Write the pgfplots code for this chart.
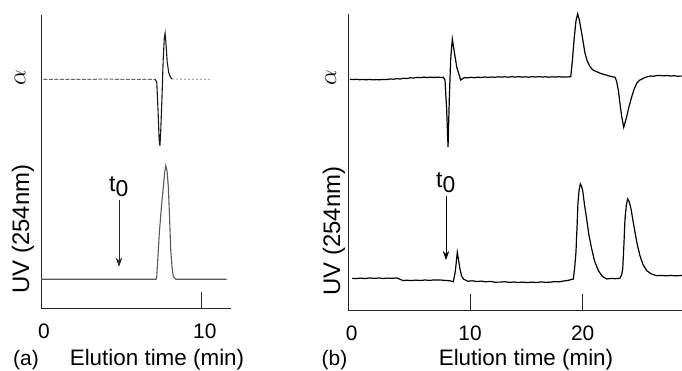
\documentclass[border=0pt]{standalone}
\usepackage{fontspec}
\setmainfont{Liberation Sans}
\usepackage{pgfplots}
\pgfplotsset{compat=1.18}
\usetikzlibrary{arrows.meta}

\begin{document}
\begin{tikzpicture}
\path[use as bounding box] (0,0) rectangle (682bp,371bp);
\pgfplotsset{
  chrom/.style={
    scale only axis,
    axis x line=bottom, axis y line=left,
    axis line style={-, line width=1bp, black!85},
    ytick=\empty,
    xtick align=inside,
    major tick length=16bp,
    tick style={line width=0.9bp, black!85},
    /pgf/number format/assume math mode=true,
    ticklabel style={font=\fontsize{21}{21}\selectfont},
    xticklabel style={anchor=base, yshift=-30bp},
    clip=false,
  }
}
% ---------------- Panel (a) ----------------
\begin{axis}[chrom,
  at={(41bp,62.7bp)}, anchor=south west,
  width=189.7bp, height=293.3bp,
  xmin=0, xmax=11.8, ymin=62.7, ymax=356,
  xtick={0,10}, xticklabels={0,10},
  xticklabel style={xshift=3bp},
]
% UV baseline + peak
\addplot[black!65, line width=1.1bp] coordinates {
 (0,91.7) (7.16,91.7) (7.2,94.3) (7.28,116) (7.36,138) (7.48,162) (7.61,184.3)
 (7.69,198) (7.76,205.3) (7.84,200) (7.92,184.3) (8.0,152) (8.07,121)
 (8.15,104) (8.23,94.3) (8.4,91.7) (11.55,91.7)
};
% alpha: left baseline (dashed, gray)
\addplot[black!60, line width=1bp, dash pattern=on 4bp off 1.5bp] coordinates {
 (0.15,291.7) (2,291.6) (4,291.8) (6,291.6) (7.09,291.7)
};
% alpha: peak
\addplot[black!90, line width=1.1bp] coordinates {
 (7.09,291.7) (7.2,289) (7.28,261) (7.35,231) (7.4,225.3) (7.45,241) (7.52,271)
 (7.6,311) (7.67,333) (7.72,337.7) (7.78,326) (7.85,309) (7.95,298) (8.05,294) (8.15,292)
};
% alpha: right baseline (dotted, light)
\addplot[black!50, line width=0.8bp, dash pattern=on 2bp off 2bp] coordinates {
 (8.15,292) (9,291.8) (10.5,291.8)
};
\end{axis}

% ---------------- Panel (b) ----------------
\begin{axis}[chrom,
  at={(348.3bp,60.5bp)}, anchor=south west,
  width=333.7bp, height=296.5bp,
  xmin=-0.8, xmax=28.81, ymin=60.5, ymax=357,
  xtick={10,20}, xticklabels={10,20},
  extra x ticks={-0.5}, extra x tick labels={0},
  extra x tick style={major tick length=0pt},
]
% alpha trace
\addplot[black, line width=1.2bp] coordinates {
 (-0.65,291.7) (-0.4,291.4) (-0.1,291.7) (0.2,291.3) (0.5,291.5) (0.8,291.2)
 (1.1,291.6) (1.4,291.1) (1.7,291.4) (2.0,291.2) (2.3,291.6) (2.6,291.4)
 (2.9,292.0) (3.2,291.8) (3.5,292.3) (3.8,292.0) (4.1,292.7) (4.4,292.5)
 (4.7,293.2) (5.0,293.0) (5.3,293.6) (5.6,293.3) (5.9,293.9) (6.2,293.5)
 (6.5,293.9) (6.8,293.5) (7.1,293.9) (7.4,293.5) (7.63,293.7)
 (7.78,291) (7.93,261) (8.05,224) (8.16,271) (8.28,311) (8.43,332) (8.58,321)
 (8.82,304) (9.17,291) (9.5,293.4) (9.8,293.1) (10.1,293.7) (10.4,293.3)
 (10.7,293.8) (11.0,293.5) (11.3,294.0) (11.6,293.6) (11.9,294.0) (12.2,293.7)
 (12.5,294.2) (12.8,293.9) (13.1,294.2) (13.4,293.8) (13.7,294.3) (14.0,294.0)
 (14.3,294.3) (14.6,293.9) (14.9,294.2) (15.2,293.8) (15.5,294.3) (15.8,294.0)
 (16.1,294.3) (16.4,294.0) (16.7,294.2) (17.0,293.8) (17.3,294.2) (17.6,293.9)
 (17.9,294.3) (18.2,293.9) (18.58,294.0) (18.94,294.3)
 (19.08,310) (19.23,331) (19.4,350) (19.55,357) (19.7,351) (19.91,337.7)
 (20.2,318) (20.4,310) (20.65,304.3) (20.9,301) (21.24,299.3) (21.6,297.5)
 (22.0,296.2) (22.4,294.8) (22.87,293.7) (23.0,290) (23.16,281) (23.3,268)
 (23.46,254.3) (23.64,243.7) (23.9,254.3) (24.1,264) (24.35,274.3) (24.55,281.5)
 (24.79,287.7) (25.05,290.8) (25.38,292.7) (25.7,294.2) (26.0,295.0) (26.3,294.7)
 (26.6,295.5) (26.86,295.6) (27.2,295.1) (27.5,295.5) (27.8,294.9) (28.1,295.3)
 (28.4,294.8) (28.8,294.9)
};
% UV trace
\addplot[black, line width=1.2bp] coordinates {
 (-0.45,92.7) (-0.1,92.4) (0.3,92.9) (0.7,92.5) (1.1,93.0) (1.5,92.6) (1.9,93.0)
 (2.3,92.5) (2.7,92.9) (3.1,92.7) (3.5,93.1) (3.8,91.7) (4.07,90.4) (4.4,90.8)
 (4.8,90.4) (5.2,90.9) (5.6,90.5) (6.0,91.0) (6.4,90.6) (6.8,91.1) (7.34,91.0)
 (7.8,90.6) (8.2,90.2) (8.52,89.3) (8.7,100) (8.87,118.7) (9.0,110) (9.11,102)
 (9.25,95) (9.41,92) (9.8,89.8) (10.2,90.2) (10.6,89.5) (11.0,89.9) (11.4,89.2)
 (11.8,89.6) (12.2,88.8) (12.66,88.9) (13.1,89.3) (13.5,88.6) (13.9,89.0)
 (14.3,88.5) (14.7,88.9) (15.1,88.4) (15.5,88.9) (15.9,88.5) (16.3,89.1)
 (16.7,88.6) (17.1,88.8) (17.5,89.4) (17.9,89.1) (18.3,90.0) (18.7,90.6)
 (19.17,92) (19.3,105) (19.4,118.7) (19.5,145) (19.58,168.7) (19.68,181) (19.79,187)
 (19.9,184.5) (20.0,180.3) (20.15,167) (20.35,152) (20.55,136) (20.8,122)
 (21.05,110) (21.39,100.3) (21.75,94.5) (22.13,92) (22.5,92.6) (22.9,92.3)
 (23.3,92.7) (23.45,96) (23.55,102) (23.65,125) (23.75,152) (23.87,166) (23.99,172)
 (24.12,169.5) (24.29,162) (24.45,151) (24.64,138.7) (24.85,126) (25.08,115.3)
 (25.35,106.5) (25.68,100.3) (26.1,97) (26.56,95.3) (27.0,95.6) (27.4,95.1)
 (27.8,95.6) (28.2,95.2) (28.8,95.5)
};
\end{axis}

% ---------------- Annotations ----------------
\def\lblfont{\fontsize{22.5}{22.5}\selectfont}
\node[anchor=base, font=\lblfont] at (157bp,6bp) {Elution time (min)};
\node[anchor=base, font=\lblfont] at (526bp,6bp) {Elution time (min)};
\node[anchor=base, font=\fontsize{21}{21}\selectfont] at (26bp,6bp) {(a)};
\node[anchor=base, font=\fontsize{21}{21}\selectfont] at (334.5bp,6bp) {(b)};

\node[rotate=90, font=\fontsize{33}{33}\selectfont] at (20bp,293bp) {$\alpha$};
\node[rotate=90, font=\fontsize{33}{33}\selectfont] at (330.7bp,293bp) {$\alpha$};
\node[rotate=90, font=\fontsize{24}{24}\selectfont] at (23bp,142bp) {UV (254nm)};
\node[rotate=90, font=\fontsize{24}{24}\selectfont] at (334bp,140bp) {UV (254nm)};

\node[anchor=base west, inner sep=0pt, font=\fontsize{23}{23}\selectfont] at (109bp,179bp) {t\raisebox{-5bp}{0}};
\node[anchor=base west, inner sep=0pt, font=\fontsize{23}{23}\selectfont] at (436bp,183bp) {t\raisebox{-5bp}{0}};

\draw[-{Stealth[length=9bp,width=6.5bp]}, line width=0.8bp, black!85] (119bp,171bp) -- (119bp,104.3bp);
\draw[-{Stealth[length=9bp,width=6.5bp]}, line width=0.8bp, black] (446bp,175bp) -- (446bp,111bp);
\end{tikzpicture}
\end{document}
